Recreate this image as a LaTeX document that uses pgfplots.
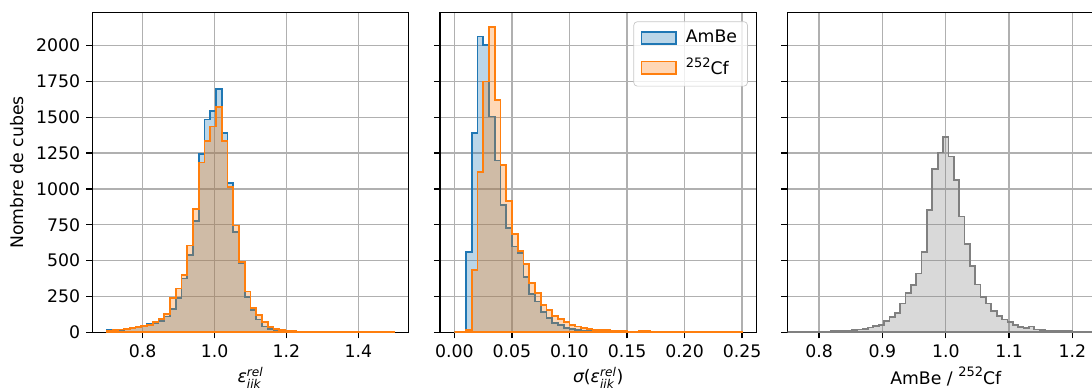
\documentclass[border=0pt]{standalone}
\usepackage{pgfplots}
\pgfplotsset{compat=1.18}
\usepackage{pgfplotstable}
\usepackage{amsmath}
\usepackage{fontspec}
\setmainfont{DejaVu Sans}[ItalicFont={DejaVu Sans Oblique}]
\definecolor{tabblue}{HTML}{1F77B4}
\definecolor{taborange}{HTML}{FF7F0E}
\definecolor{gridgray}{HTML}{B0B0B0}
\definecolor{histgray}{HTML}{808080}
\newcommand{\isosup}[1]{\raisebox{0.8ex}{\fontsize{7.5}{8}\selectfont #1}}

% Panel 1: relative efficiency, bins of 0.016 from 0.7 to 1.5
\pgfplotstableread{
x y
0.700 0
0.700 15
0.716 14
0.732 18
0.748 22
0.764 28
0.780 35
0.796 48
0.812 60
0.828 65
0.844 80
0.860 110
0.876 165
0.892 240
0.908 375
0.924 540
0.940 775
0.956 1245
0.972 1485
0.988 1545
1.004 1695
1.020 1390
1.036 1040
1.052 700
1.068 480
1.084 245
1.100 155
1.116 90
1.132 40
1.148 22
1.164 15
1.180 10
1.196 7
1.212 5
1.228 4
1.244 3
1.260 3
1.276 3
1.292 2
1.308 2
1.324 2
1.340 2
1.356 2
1.372 2
1.388 2
1.404 1
1.420 1
1.436 1
1.452 1
1.468 1
1.484 1
1.500 0
}\effAmBe
\pgfplotstableread{
x y
0.700 0
0.700 12
0.716 16
0.732 20
0.748 25
0.764 32
0.780 37
0.796 44
0.812 51
0.828 74
0.844 91
0.860 130
0.876 240
0.892 305
0.908 400
0.924 605
0.940 860
0.956 1185
0.972 1335
0.988 1435
1.004 1570
1.020 1335
1.036 1015
1.052 745
1.068 490
1.084 285
1.100 170
1.116 120
1.132 70
1.148 35
1.164 25
1.180 18
1.196 12
1.212 8
1.228 6
1.244 4
1.260 4
1.276 3
1.292 3
1.308 3
1.324 3
1.340 3
1.356 3
1.372 2
1.388 2
1.404 2
1.420 2
1.436 2
1.452 2
1.468 2
1.484 2
1.500 0
}\effCf

% Panel 2: sigma, bins of 0.005 from 0 to 0.25
\pgfplotstableread{
x y
0.000 0
0.000 2
0.005 5
0.010 558
0.015 1390
0.020 2063
0.025 2005
0.030 1505
0.035 1198
0.040 888
0.045 726
0.050 598
0.055 551
0.060 384
0.065 267
0.070 214
0.075 144
0.080 98
0.085 63
0.090 51
0.095 28
0.100 23
0.105 16
0.110 12
0.115 9
0.120 7
0.125 5
0.130 4
0.135 3
0.140 3
0.145 2
0.150 2
0.155 2
0.160 1
0.165 1
0.170 1
0.175 1
0.180 1
0.185 1
0.190 1
0.195 1
0.200 1
0.205 1
0.210 1
0.215 1
0.220 1
0.225 1
0.230 1
0.235 1
0.240 1
0.245 1
0.250 0
}\sigAmBe
\pgfplotstableread{
x y
0.000 0
0.000 0
0.005 2
0.010 16
0.015 435
0.020 1120
0.025 1750
0.030 2130
0.035 1620
0.040 1165
0.045 916
0.050 684
0.055 568
0.060 477
0.065 342
0.070 272
0.075 191
0.080 156
0.085 114
0.090 93
0.095 70
0.100 51
0.105 40
0.110 28
0.115 21
0.120 16
0.125 14
0.130 14
0.135 12
0.140 12
0.145 10
0.150 5
0.155 5
0.160 10
0.165 10
0.170 4
0.175 4
0.180 3
0.185 3
0.190 3
0.195 3
0.200 3
0.205 3
0.210 3
0.215 3
0.220 3
0.225 3
0.230 2
0.235 2
0.240 2
0.245 2
0.250 0
}\sigCf

% Panel 3: ratio AmBe / Cf, 59 bins from 0.75 to 1.25
\pgfplotstableread{
x y
0.75000 0
0.75000 2
0.75847 2
0.76695 2
0.77542 2
0.78390 3
0.79237 3
0.80085 5
0.80932 5
0.81780 7
0.82627 7
0.83475 9
0.84322 9
0.85169 14
0.86017 19
0.86864 23
0.87712 33
0.88559 42
0.89407 49
0.90254 79
0.91102 107
0.91949 135
0.92797 200
0.93644 275
0.94492 329
0.95339 411
0.96186 562
0.97034 854
0.97881 1141
0.98729 1255
0.99576 1362
1.00424 1227
1.01271 1064
1.02119 807
1.02966 614
1.03814 464
1.04661 334
1.05508 247
1.06356 200
1.07203 149
1.08051 114
1.08898 89
1.09746 72
1.10593 49
1.11441 37
1.12288 30
1.13136 40
1.13983 19
1.14831 14
1.15678 12
1.16525 9
1.17373 12
1.18220 9
1.19068 7
1.19915 5
1.20763 5
1.21610 4
1.22458 3
1.23305 3
1.24153 2
1.25000 0
}\ratio

\pgfplotsset{
  panel/.style={
    scale only axis, width=182.3bp, height=184.1bp,
    anchor=south west,
    ymin=0, ymax=2230,
    ytick={0,250,500,750,1000,1250,1500,1750,2000},
    grid=major,
    grid style={gridgray, line width=0.8pt},
    axis line style={line width=0.8pt},
    every tick/.style={black, line width=0.8pt},
    major tick length=3.5bp,
    tick align=outside,
    tick pos=left,
    /pgf/number format/assume math mode=true,
    /pgf/number format/1000 sep={},
    tick label style={font=\fontsize{10}{12}\selectfont},
    label style={font=\fontsize{10}{12}\selectfont},
    xlabel style={yshift=1.5bp},
  },
  hist/.style={const plot, mark=none, line width=1pt, fill opacity=0.3, draw opacity=1},
}

\begin{document}
\begin{tikzpicture}
\begin{axis}[panel, at={(53.16bp,32.66bp)},
  xmin=0.66, xmax=1.54, xtick={0.8,1.0,1.2,1.4},
  xticklabel style={/pgf/number format/fixed, /pgf/number format/fixed zerofill, /pgf/number format/precision=1},
  ylabel={Nombre de cubes},
  xlabel={$\text{\itshape ε}^{\text{\itshape rel}}_{\text{\itshape iik}}$}]
\addplot[hist, draw=tabblue, fill=tabblue] table {\effAmBe} \closedcycle;
\addplot[hist, draw=taborange, fill=taborange] table {\effCf} \closedcycle;
\end{axis}

\begin{axis}[panel, at={(253.44bp,32.66bp)},
  xmin=-0.0125, xmax=0.2625, xtick={0,0.05,0.1,0.15,0.2,0.25},
  xticklabel style={/pgf/number format/fixed, /pgf/number format/fixed zerofill, /pgf/number format/precision=2},
  yticklabels={},
  xlabel={$\text{\itshape σ}\text{(}\text{\itshape ε}^{\text{\itshape rel}}_{\text{\itshape iik}}\text{)}$},
  legend style={at={(1,1)}, anchor=north east, xshift=-5bp, yshift=-5bp,
    draw=gridgray!70, rounded corners=2bp, fill=white, fill opacity=0.8, text opacity=1,
    font=\fontsize{10}{12}\selectfont, inner xsep=4bp, inner ysep=3bp, row sep=3bp,
    /tikz/every odd column/.append style={column sep=3bp}},
  legend cell align=left,
  legend image code/.code={\draw[#1, sharp corners] (0bp,-3.5bp) rectangle (20bp,3.5bp);}]
\addplot[hist, draw=tabblue, fill=tabblue] table {\sigAmBe} \closedcycle;
\addlegendentry{AmBe}
\addplot[hist, draw=taborange, fill=taborange] table {\sigCf} \closedcycle;
\addlegendentry{\isosup{252}Cf}
\end{axis}

\begin{axis}[panel, at={(453.6bp,32.66bp)},
  xmin=0.75, xmax=1.25, xtick={0.8,0.9,1.0,1.1,1.2},
  xticklabel style={/pgf/number format/fixed, /pgf/number format/fixed zerofill, /pgf/number format/precision=1},
  yticklabels={},
  xlabel={AmBe / \isosup{252}Cf}]
\addplot[hist, draw=histgray, fill=histgray] table {\ratio} \closedcycle;
\end{axis}

\pgfresetboundingbox
\path[use as bounding box] (0bp,0bp) rectangle (628.99bp,224.06bp);
\end{tikzpicture}
\end{document}
